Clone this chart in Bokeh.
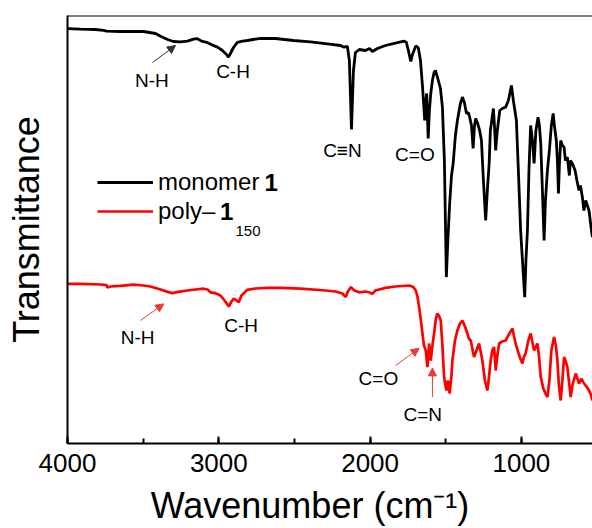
import math
from bokeh.plotting import figure
from bokeh.models import (Range1d, SingleIntervalTicker, FixedTicker, Label, Legend, LegendItem,
                          Arrow, NormalHead, Span)
from bokeh.embed import file_html
from bokeh.resources import INLINE

# ---------------- data ----------------
wavenumber_monomer = [3997, 3914, 3815, 3762, 3742, 3650, 3498, 3418, 3385, 3339, 3300, 3253, 3207,
    3167, 3141, 3114, 3075, 3042, 3009, 2976, 2949, 2936, 2923, 2903, 2877, 2844, 2811, 2725, 2626,
    2507, 2394, 2282, 2196, 2176, 2150, 2137, 2123, 2110, 2097, 2072, 2031, 2004, 1985, 1951, 1899,
    1833, 1775, 1760, 1747, 1731, 1720, 1698, 1681, 1667, 1654, 1639, 1631, 1626, 1616, 1608, 1599,
    1588, 1577, 1568, 1555, 1535, 1522, 1509, 1496, 1486, 1474, 1462, 1451, 1436, 1423, 1403, 1390,
    1377, 1363, 1350, 1342, 1330, 1319, 1310, 1302, 1291, 1276, 1264, 1251, 1236, 1225, 1213, 1205,
    1185, 1178, 1170, 1159, 1143, 1126, 1104, 1086, 1066, 1053, 1033, 1020, 1005, 993, 978, 970, 960,
    950, 939, 927, 916, 904, 890, 881, 872, 861, 850, 841, 828, 815, 802, 790, 782, 769, 762, 755,
    749, 740, 729, 718, 709, 696, 683, 676, 663, 645, 633, 619, 610, 597, 587, 575, 564, 553, 541, 531]
transmittance_monomer = [103.7, 103.6, 103.5, 103.3, 103.1, 103.0, 103.0, 102.5, 101.8, 101.0, 100.5,
    100.4, 100.6, 101.1, 101.2, 100.6, 100.2, 99.6, 99.1, 98.25, 97.25, 96.6, 97.5, 99.0, 100.3,
    100.6, 100.75, 101.3, 101.25, 100.75, 100.4, 99.9, 99.5, 99.1, 99.25, 95.75, 78.5, 93.25, 97.75,
    98.5, 98.25, 98.75, 98.0, 98.75, 99.5, 100.1, 100.6, 100.25, 98.25, 95.5, 97.25, 99.4, 98.9,
    95.75, 89.5, 80.75, 85.75, 87.5, 76.25, 83.25, 87.5, 90.75, 92.8, 93.25, 91.6, 88.75, 84.1, 70.75,
    41.6, 50.75, 60.0, 67.0, 70.0, 77.0, 80.75, 85.0, 86.6, 85.25, 82.5, 82.75, 81.6, 79.5, 73.75,
    79.5, 81.25, 80.25, 78.25, 75.75, 65.75, 55.75, 63.25, 70.0, 78.25, 83.75, 79.5, 73.25, 78.25,
    83.25, 83.75, 84.1, 85.75, 89.5, 85.75, 80.75, 68.25, 53.25, 45.75, 36.6, 45.75, 53.25, 68.25,
    79.5, 75.75, 70.0, 78.25, 81.6, 79.5, 75.0, 63.25, 50.75, 60.75, 68.25, 73.25, 79.5, 82.5, 79.5,
    75.75, 70.75, 62.5, 69.5, 75.75, 74.5, 74.1, 70.75, 71.6, 67.0, 70.75, 70.0, 68.25, 65.75, 63.25,
    64.5, 61.6, 58.25, 60.75, 59.5, 58.25, 54.5, 51.6]

wavenumber_poly = [3997, 3914, 3782, 3742, 3736, 3716, 3650, 3564, 3498, 3452, 3385, 3339, 3308, 3267,
    3209, 3154, 3101, 3075, 3055, 3022, 2989, 2962, 2934, 2916, 2901, 2883, 2868, 2850, 2812, 2758,
    2680, 2592, 2460, 2293, 2229, 2183, 2161, 2150, 2128, 2104, 2072, 2031, 2004, 1985, 1965, 1897,
    1833, 1742, 1714, 1698, 1687, 1676, 1664, 1654, 1644, 1632, 1621, 1610, 1599, 1588, 1577, 1565,
    1555, 1545, 1533, 1522, 1511, 1496, 1486, 1474, 1462, 1456, 1439, 1423, 1406, 1390, 1373, 1357,
    1347, 1335, 1324, 1313, 1297, 1280, 1268, 1258, 1241, 1225, 1215, 1203, 1192, 1180, 1170, 1159,
    1147, 1126, 1104, 1079, 1059, 1050, 1038, 1020, 1007, 993, 983, 972, 954, 939, 927, 916, 904,
    894, 884, 872, 855, 841, 828, 815, 802, 784, 772, 762, 752, 740, 729, 718, 709, 696, 686, 674,
    663, 641, 630, 619, 603, 586, 570, 553, 541, 531]
transmittance_poly = [39.9, 39.9, 39.75, 39.6, 39.0, 39.25, 39.4, 39.7, 39.5, 39.25, 38.5, 37.9, 37.6,
    37.9, 38.25, 38.5, 38.7, 38.5, 37.8, 37.6, 37.0, 35.75, 34.25, 35.5, 36.2, 35.75, 35.3, 37.0,
    38.4, 38.75, 38.9, 38.9, 38.7, 38.25, 38.0, 37.5, 36.6, 37.75, 39.1, 38.25, 37.8, 38.0, 37.75,
    37.4, 38.25, 38.9, 39.25, 39.5, 39.1, 38.25, 36.75, 34.1, 30.75, 27.5, 24.5, 23.25, 19.1, 25.0,
    20.75, 24.5, 27.5, 31.25, 32.5, 32.0, 30.75, 24.5, 16.6, 13.25, 15.75, 12.5, 17.0, 20.75, 25.75,
    28.25, 30.0, 30.75, 29.25, 27.5, 26.25, 25.75, 23.75, 21.6, 23.25, 25.0, 22.75, 20.75, 15.75,
    13.25, 16.25, 20.75, 23.25, 24.1, 18.25, 22.0, 25.0, 25.5, 25.75, 27.5, 28.75, 27.0, 25.0, 22.75,
    21.25, 20.0, 21.75, 22.5, 25.75, 27.5, 25.25, 23.25, 24.25, 25.0, 22.0, 16.6, 13.75, 12.5, 11.6,
    15.75, 23.25, 26.6, 24.5, 20.75, 14.5, 10.75, 15.75, 21.6, 20.75, 19.1, 15.75, 11.6, 14.5, 17.5,
    16.25, 15.0, 16.25, 15.0, 14.25, 13.25, 12.25, 10.75]

x_start, x_end = 4000, 530
y_start, y_end = 0, 107
tick_interval = 1000

FONT = "Liberation Sans"

p = figure(width=592, height=528, x_range=Range1d(x_start, x_end), y_range=Range1d(y_start, y_end),
           output_backend="svg", toolbar_location=None, title=None,
           min_border_left=67, min_border_right=0, min_border_top=15, min_border_bottom=85)
p.outline_line_color = None
p.xgrid.visible = False
p.ygrid.visible = False
p.background_fill_color = "white"
p.border_fill_color = "white"

# x axis
xa = p.xaxis[0]
xa.ticker = SingleIntervalTicker(interval=tick_interval, num_minor_ticks=2)
xa.axis_line_width = 2
xa.axis_line_color = "black"
xa.major_tick_in = 7
xa.major_tick_out = 0
xa.minor_tick_in = 5
xa.minor_tick_out = 0
xa.major_tick_line_width = 2
xa.minor_tick_line_width = 2
xa.major_label_text_font = FONT
xa.major_label_text_font_size = "26px"
xa.major_label_text_color = "black"
xa.major_label_standoff = 10
# trailing no-break spaces shift the centred title left, as in the original
xa.axis_label = "Wavenumber (cm\u207b\u00b9)" + "\u00a0" * 4
xa.axis_label_standoff = 10
xa.axis_label_text_font = FONT
xa.axis_label_text_font_size = "36px"
xa.axis_label_text_font_style = "normal"
xa.axis_label_text_color = "black"

# y axis: line + title only
ya = p.yaxis[0]
ya.ticker = FixedTicker(ticks=[])
ya.axis_line_width = 2
ya.axis_line_color = "black"
ya.major_tick_line_color = None
ya.minor_tick_line_color = None
ya.major_label_standoff = 0
ya.axis_label = "Transmittance"
ya.axis_label_standoff = 21
ya.axis_label_text_font = FONT
ya.axis_label_text_font_size = "36px"
ya.axis_label_text_font_style = "normal"
ya.axis_label_text_color = "black"

# top border
p.add_layout(Span(location=y_end, dimension="width", line_color="black", line_width=2))

r_mono = p.line(wavenumber_monomer, transmittance_monomer, line_color="black", line_width=2.8)
r_poly = p.line(wavenumber_poly, transmittance_poly, line_color="#ff0000", line_width=2.7)

legend = Legend(items=[LegendItem(label="monomer", renderers=[r_mono]),
                       LegendItem(label="poly\u2013", renderers=[r_poly])],
                location=(30, 218), padding=0, margin=0, spacing=1,
                glyph_width=56, glyph_height=28, label_height=28, label_standoff=5,
                label_text_font=FONT, label_text_font_size="24px", label_text_color="black",
                border_line_color=None, background_fill_alpha=0)
p.add_layout(legend)

def lab(text, x, y, size, units="screen", align="left", baseline="middle", style="normal",
        color="black"):
    p.add_layout(Label(x=x, y=y, x_units=units, y_units=units, text=text, text_font=FONT,
                       text_font_size=size, text_align=align, text_baseline=baseline,
                       text_font_style=style, text_color=color))

# legend extras (bold compound number / subscript)
lab("1", 197, 261.3, "24px", style="bold")
lab("1", 152.5, 232.3, "24px", style="bold")
lab("150", 168, 213, "15px", baseline="alphabetic")

# peak annotations (data units)
ann = [("N-H", 3442, 90.75), ("C-H", 2906, 92.9), ("C\u2261N", 2183, 73.3), ("C=O", 1704, 72.25),
       ("N-H", 3537, 26.4), ("C-H", 2852, 29.4), ("C=O", 1945, 16.25), ("C=N", 1652, 7.25)]
for t, x, y in ann:
    lab(t, x, y, "19px", units="data", align="center")

arrows = [((3438, 95.25), (3286, 99.5), "#333333"),
          ((3518, 30.75), (3364, 34.9), "#e83a3a"),
          ((1831, 19.5), (1676, 23.8), "#e83a3a"),
          ((1588, 11.6), (1588, 18.9), "#e83a3a")]
for (x0, y0), (x1, y1), c in arrows:
    p.add_layout(Arrow(end=NormalHead(size=8, fill_color=c, line_color=c, line_width=1),
                       x_start=x0, y_start=y0, x_end=x1, y_end=y1, line_color=c, line_width=1))

open("out.html", "w").write(file_html(p, INLINE))
